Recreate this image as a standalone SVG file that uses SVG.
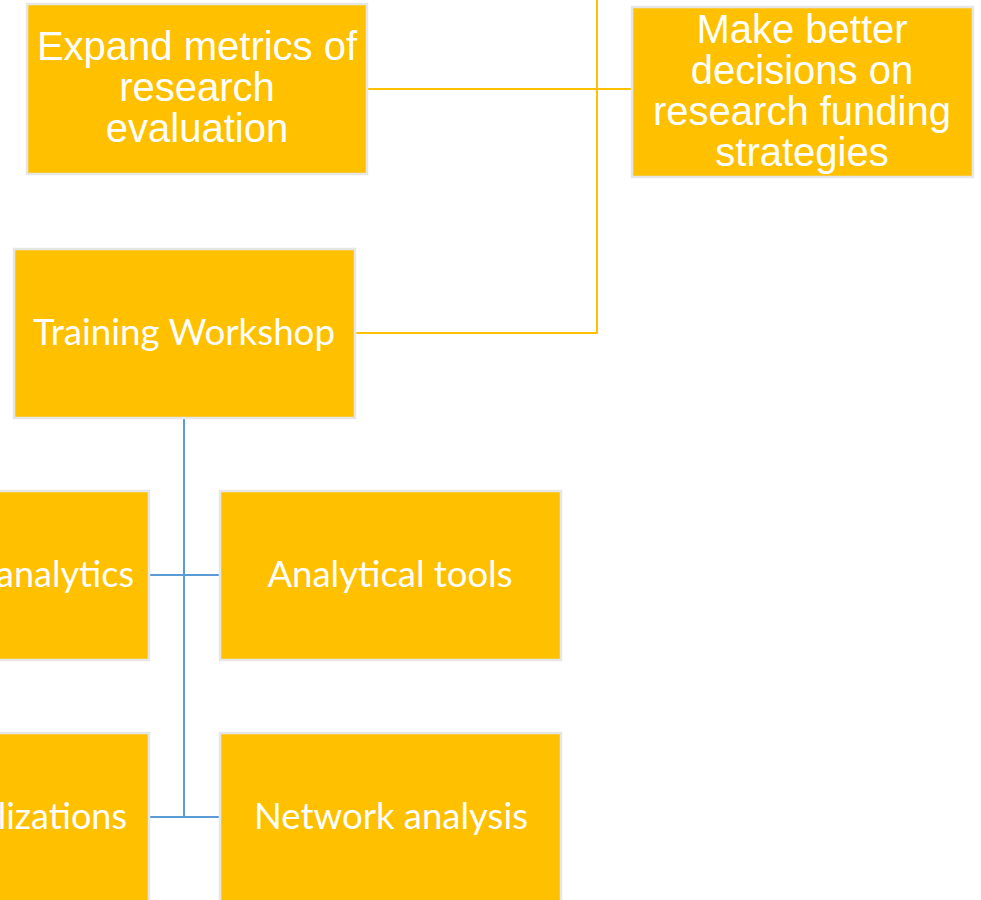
<svg xmlns="http://www.w3.org/2000/svg" width="981" height="900" viewBox="0 0 981 900">
<style>
.box{fill:#FFC000;stroke:#E7E6E6;stroke-width:2.5}
.ar{font-family:"Liberation Sans",Arial,sans-serif;font-size:40px;fill:#fff;text-anchor:middle}
.cb{font-family:Lato,"Open Sans",sans-serif;font-size:36px;fill:#fff;text-anchor:middle}
.y{stroke:#FFC000;stroke-width:2;fill:none}
.b{stroke:#5B9BD5;stroke-width:2;fill:none}
</style>
<rect width="981" height="900" fill="#fff"/>
<g id="connectors">
<path class="y" d="M368 89H631M597 0V333H356"/>
<path class="b" d="M184 419V817M149 575H220M149 817H220"/>
</g>
<g id="expand">
<rect class="box" x="27" y="4" width="340" height="170"/>
<text class="ar" x="197" y="60">Expand metrics of</text>
<text class="ar" x="197" y="101">research</text>
<text class="ar" x="197" y="142">evaluation</text>
</g>
<g id="decisions">
<rect class="box" x="632" y="7" width="341" height="170"/>
<text class="ar" x="802" y="43">Make better</text>
<text class="ar" x="802" y="84">decisions on</text>
<text class="ar" x="802" y="125">research funding</text>
<text class="ar" x="802" y="166">strategies</text>
</g>
<g id="training">
<rect class="box" x="14" y="249" width="341" height="169"/>
<text class="cb" x="184" y="345" textLength="302" lengthAdjust="spacingAndGlyphs">Training Workshop</text>
</g>
<g id="analytics">
<rect class="box" x="-192" y="491" width="341" height="169"/>
<text class="cb" x="134" y="587" style="text-anchor:end">analytics</text>
</g>
<g id="tools">
<rect class="box" x="220" y="491" width="341" height="169"/>
<text class="cb" x="390" y="587" textLength="245" lengthAdjust="spacingAndGlyphs">Analytical tools</text>
</g>
<g id="visualizations">
<rect class="box" x="-192" y="733" width="341" height="169"/>
<text class="cb" x="127" y="829" style="text-anchor:end">lizations</text>
</g>
<g id="network">
<rect class="box" x="220" y="733" width="341" height="169"/>
<text class="cb" x="391" y="829" textLength="274" lengthAdjust="spacingAndGlyphs">Network analysis</text>
</g>
</svg>
